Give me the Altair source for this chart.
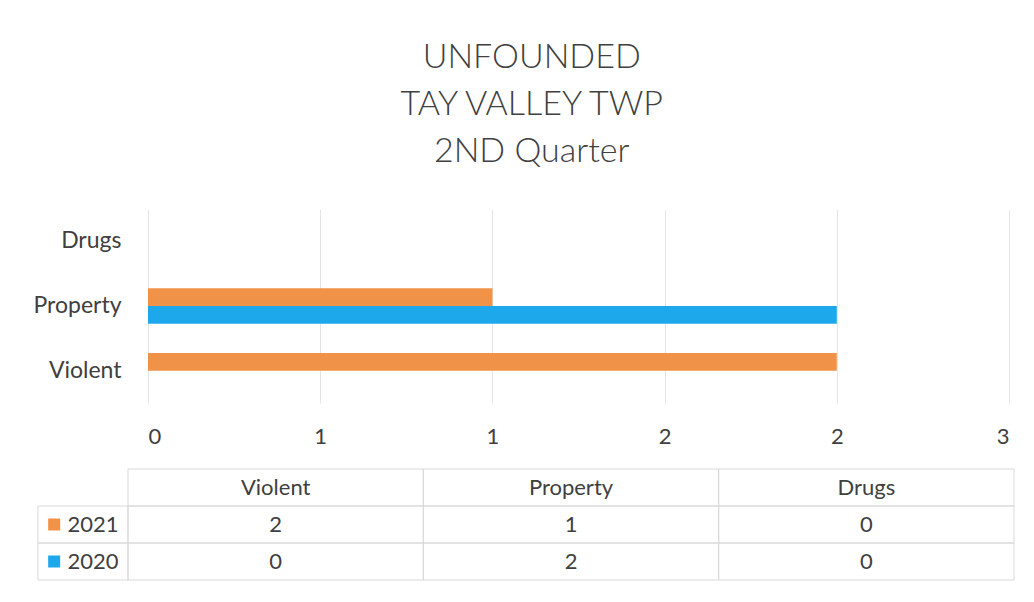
import altair as alt
import pandas as pd

# ---- data ----
categories = ["Violent", "Property", "Drugs"]
years = ["2021", "2020"]
values_2021 = [2, 1, 0]
values_2020 = [0, 2, 0]
x_ticks = [0, 0.5, 1, 1.5, 2, 2.5]
title_lines = ["UNFOUNDED", "TAY VALLEY TWP", "2ND Quarter"]

# ---- styles ----
ORANGE = "#F09248"
BLUE = "#1EA8EC"
TEXT = "#404040"
GRID = "#E4E4E4"
BORDER = "#D9D9D9"
FONT = "Lato"
FS = 22
LABEL_COL_LEFT = -0.305   # left edge of the table's legend column (table units)
SWATCH_X = -0.25
YEAR_X = -0.205

series = {"2021": values_2021, "2020": values_2020}
bars_df = pd.DataFrame(
    [{"category": c, "year": y, "value": v}
     for y in years for c, v in zip(categories, series[y])]
)

color = alt.Color("year:N", scale=alt.Scale(domain=years, range=[ORANGE, BLUE]), legend=None)

bars = alt.Chart(bars_df).mark_bar().encode(
    x=alt.X(
        "value:Q",
        scale=alt.Scale(domain=[0, 2.5], range=[20, 881], nice=False, zero=True),
        axis=alt.Axis(values=x_ticks, labelExpr="round(datum.value)", title=None,
                      domain=False, ticks=False, tickSize=0, grid=True, gridColor=GRID,
                      labelPadding=23, labelFontSize=FS, labelColor=TEXT, labelFont=FONT),
    ),
    y=alt.Y(
        "category:N", sort=categories[::-1],
        scale=alt.Scale(paddingInner=0.45, paddingOuter=0.225),
        axis=alt.Axis(title=None, domain=False, ticks=False, tickSize=0, labelPadding=7,
                      labelFontSize=23, labelColor=TEXT, labelFont=FONT),
    ),
    yOffset=alt.YOffset("year:N", sort=years, scale=alt.Scale(domain=years)),
    color=color,
).properties(width=881, height=194)

# ---- data table under the chart ----
rows = ["hdr"] + years
cells = [{"row": "hdr", "x0": i, "x1": i + 1} for i in range(len(categories))]
for y in years:
    cells.append({"row": y, "x0": LABEL_COL_LEFT, "x1": 0})
    cells += [{"row": y, "x0": i, "x1": i + 1} for i in range(len(categories))]
cells_df = pd.DataFrame(cells)

txt = [{"row": "hdr", "xc": i + 0.5, "text": c} for i, c in enumerate(categories)]
for y in years:
    txt += [{"row": y, "xc": i + 0.5, "text": str(v)} for i, v in enumerate(series[y])]
txt_df = pd.DataFrame(txt)
yr_df = pd.DataFrame({"row": years, "year": years})

xs = alt.Scale(domain=[0, 3], nice=False, zero=False)
ys = alt.Y("row:N", scale=alt.Scale(domain=rows, paddingInner=0, paddingOuter=0), axis=None)

grid_cells = alt.Chart(cells_df).mark_rect(fillOpacity=0, stroke=BORDER, strokeWidth=1).encode(
    x=alt.X("x0:Q", scale=xs, axis=None), x2="x1:Q", y=ys
)
cell_text = alt.Chart(txt_df).mark_text(font=FONT, fontSize=FS, color=TEXT, baseline="middle").encode(
    x=alt.X("xc:Q", scale=xs, axis=None), y=ys, text="text:N"
)
swatch = alt.Chart(yr_df).mark_square(size=144, opacity=1).encode(
    x=alt.datum(SWATCH_X, scale=xs), y=ys, color=color
)
year_text = alt.Chart(yr_df).mark_text(font=FONT, fontSize=FS, color=TEXT, align="left", baseline="middle").encode(
    x=alt.datum(YEAR_X, scale=xs), y=ys, text="year:N"
)
table = alt.layer(grid_cells, cell_text, swatch, year_text).properties(width=886, height=111)

chart = alt.vconcat(bars, table, spacing=66, bounds="flush").properties(
    title=alt.TitleParams(title_lines, anchor="middle", offset=40, dx=8),
    padding={"left": 24, "top": 33, "right": 5, "bottom": 5},
).configure_view(stroke=None).configure_title(
    font=FONT, fontSize=34, color=TEXT, lineHeight=47, fontWeight=300
)

chart.save("out.html", embed_options={"renderer": "svg", "actions": False})
